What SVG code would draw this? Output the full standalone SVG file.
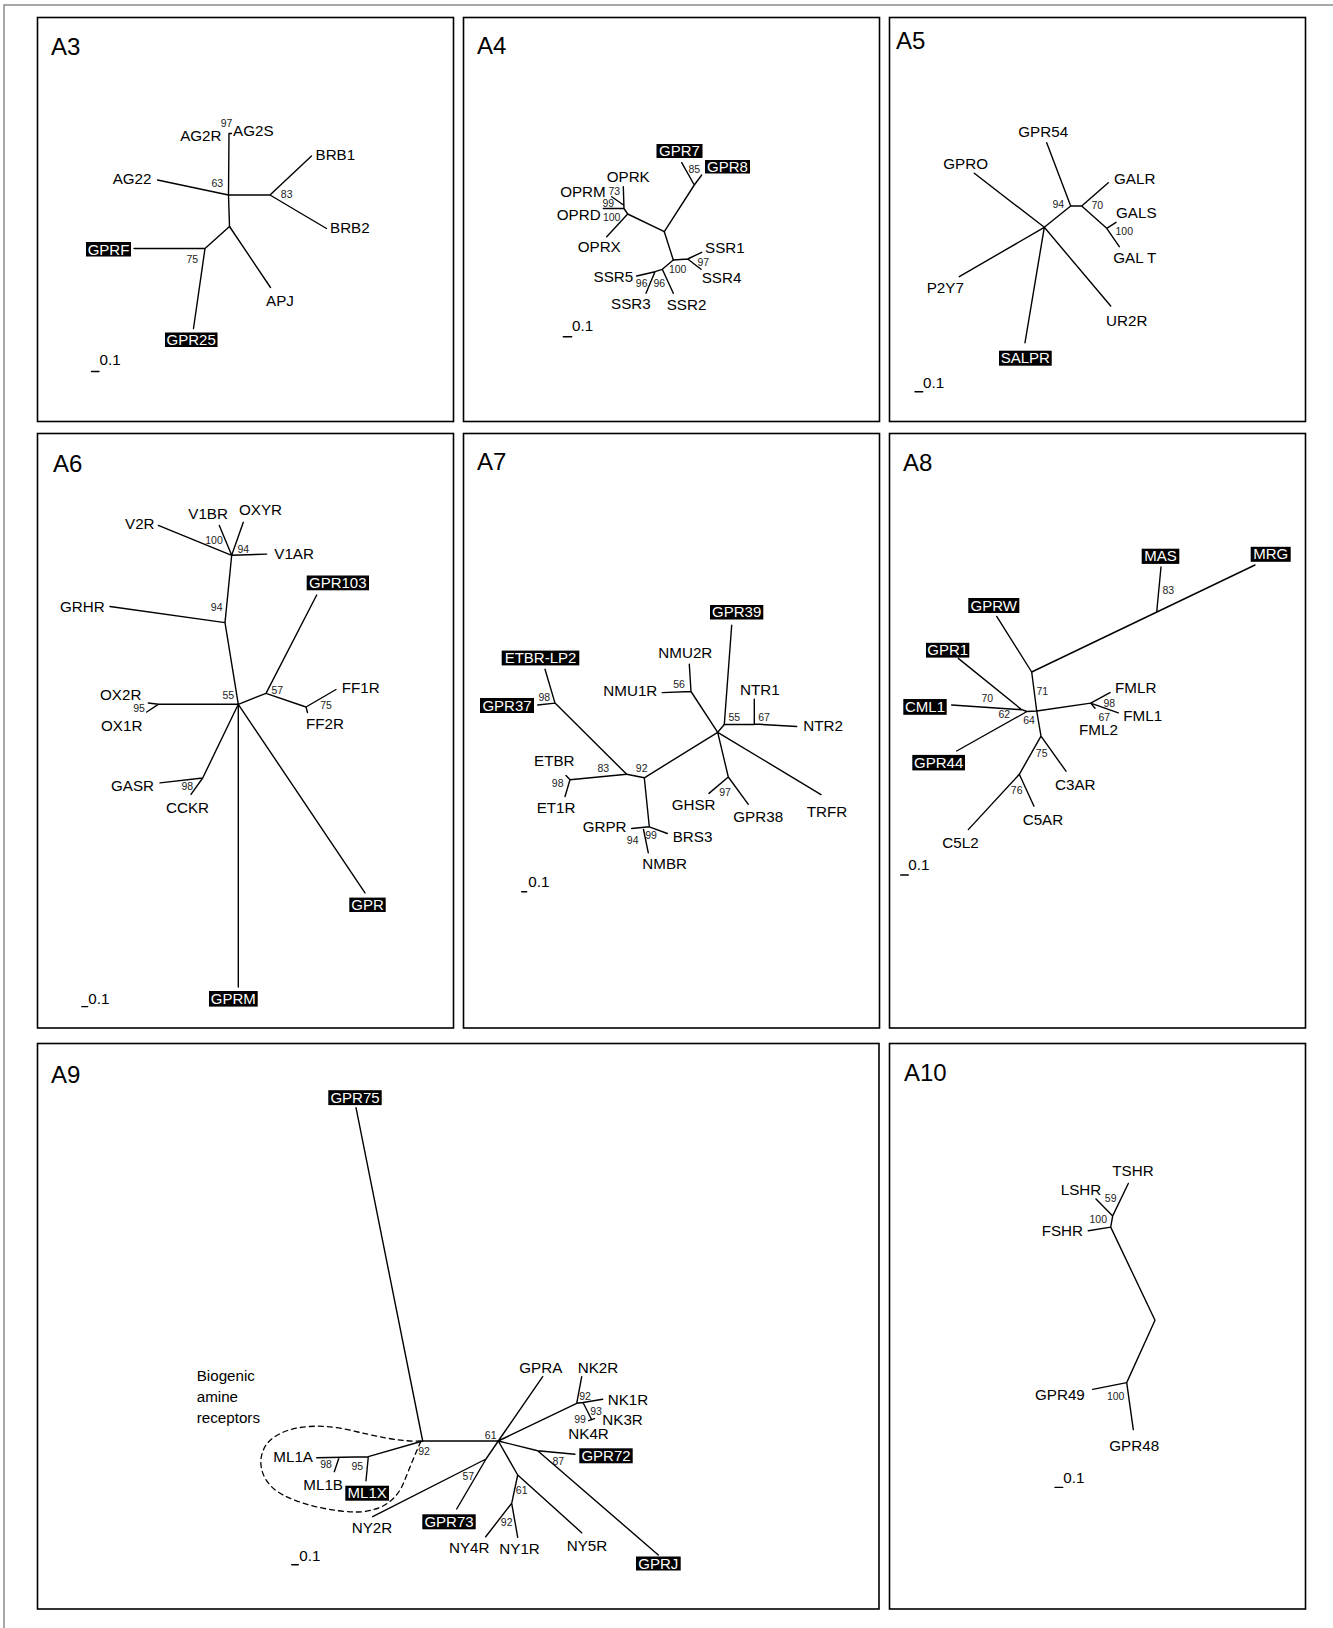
<svg xmlns="http://www.w3.org/2000/svg" width="1333" height="1628" viewBox="0 0 1333 1628">
<style>
.frame{fill:none;stroke:#000;stroke-width:1.6}
.outer{fill:none;stroke:#8a8a8a;stroke-width:1.5}
.e{fill:none;stroke:#000;stroke-width:1.4;stroke-linecap:round;stroke-linejoin:round}
.d{fill:none;stroke:#000;stroke-width:1.3;stroke-dasharray:5 4}
text{font-family:"Liberation Sans",Arial,Helvetica,sans-serif}
.l{font-size:15.2px;fill:#000}
.r{text-anchor:end}
.w{font-size:15px;fill:#fff;text-anchor:middle}
.box{fill:#000}
.n{font-size:10.5px;fill:#222;text-anchor:middle}
.ti{font-size:24px;fill:#000}
</style>
<rect x="0" y="0" width="1333" height="1628" fill="#fff"/>
<path class="outer" d="M4,1628 V5 H1333"/>

<!-- panel frames and titles -->
<g id="panels">
<rect class="frame" x="37.5" y="17.5" width="416" height="404"/>
<rect class="frame" x="463.5" y="17.5" width="416" height="404"/>
<rect class="frame" x="889.5" y="17.5" width="416" height="404"/>
<rect class="frame" x="37.5" y="433.5" width="416" height="594.5"/>
<rect class="frame" x="463.5" y="433.5" width="416" height="594.5"/>
<rect class="frame" x="889.5" y="433.5" width="416" height="594.5"/>
<rect class="frame" x="37.5" y="1043.5" width="841.5" height="565.5"/>
<rect class="frame" x="889.5" y="1043.5" width="416" height="565.5"/>
<text class="ti" x="51" y="55">A3</text>
<text class="ti" x="477" y="54">A4</text>
<text class="ti" x="896" y="48.5">A5</text>
<text class="ti" x="53" y="472">A6</text>
<text class="ti" x="477" y="470">A7</text>
<text class="ti" x="903" y="471">A8</text>
<text class="ti" x="51" y="1082.5">A9</text>
<text class="ti" x="904" y="1080.5">A10</text>
</g>

<!-- connectors (tree branches) -->
<g id="connectors">
<g id="A3-edges" class="e">
<path d="M231.5,133.5 H229 L228.5,195 L229.5,226.5"/>
<path d="M228.5,195 L157.5,180"/>
<path d="M228.5,195 H270 L311.5,156 M270,195 L326.5,228.5"/>
<path d="M229.5,226.5 L205,248.5 H134 M205,248.5 L193.5,328.5"/>
<path d="M229.5,226.5 L270.5,287.5"/>
<path d="M91.5,371.5 H99"/>
</g>
<g id="A4-edges" class="e">
<path d="M681.7,162.7 L694.3,185 L701.7,175 M694.3,185 L664.3,231.7"/>
<path d="M664.3,231.7 L627.7,214 L624,208.5 L623.3,186.7 M623.5,205 L611.7,196.7 M624,208.5 H603.3 M627.7,214 L606.7,236.7"/>
<path d="M664.3,231.7 L673.3,260 L687.7,259 L701.7,252.3 M687.7,259 L701,269.3"/>
<path d="M673.3,260 L662.3,269.3 L673.3,293.3 M662.3,269.3 L655,271.7 L636.7,276 M655,271.7 L646,293.3"/>
<path d="M563.3,336.7 H571.7"/>
</g>
<g id="A5-edges" class="e">
<path d="M974.3,173.3 L1044.3,227.3 L1110.7,306 M959.3,276.7 L1044.3,227.3 L1025,342.7"/>
<path d="M1044.3,227.3 L1070.7,206 L1046.7,142.7 M1070.7,206 H1081.7 L1108.3,182.7 M1081.7,206 L1106.7,228.3 L1119.3,246.7 M1106.7,228.3 L1116,222.3"/>
<path d="M915,391.7 H922.7"/>
</g>
<g id="A6-edges" class="e">
<path d="M158.3,525.4 L231.7,555.3 L219.3,525.4 M243.3,522.3 L231.7,555.3 L266.7,554.1 M231.7,555.3 L225,622.6 L238.3,704.3 M110,606.5 L225,622.6"/>
<path d="M238.3,704.3 H158.3 L148.3,703 M158.3,704.3 L146.7,712"/>
<path d="M238.3,704.3 L266,693.4 L316.7,595 M266,693.4 L306,707 L336,689.5 M306,707 L307.5,712.5"/>
<path d="M238.3,704.3 L202.7,778 L160,782.9 M202.7,778 L191,794.4"/>
<path d="M238.3,704.3 L365,892.8 M238.3,704.3 V987"/>
<path d="M81.7,1006.6 H87.7"/>
</g>
<g id="A7-edges" class="e">
<path d="M731.7,625.3 L724.3,724.5 H754.3 V699.2 M754.3,724 L796.7,726.5"/>
<path d="M724.3,724.5 L717.7,732.3 L691,691.5 L689.3,664.2 M691,691.5 L662.3,692.6"/>
<path d="M717.7,732.3 L821,794.6 M717.7,732.3 L728.3,777 L709,793.4 M728.3,777 L748.3,804.3"/>
<path d="M717.7,732.3 L644.3,777.8 L626.7,774.3 L555,703.1 L545,669.3 M555,703.1 L537.7,705"/>
<path d="M626.7,774.3 L570,779.8 L566,775.5 M570,779.8 L565,796.5"/>
<path d="M644.3,777.8 L649.3,826.8 L631.7,828.5 M649.3,826.8 L667.3,833.5 M643.5,829.5 L648.3,852.9"/>
<path d="M521.7,891.8 H526.7"/>
</g>
<g id="A8-edges" class="e">
<path d="M996.7,616.4 L1031.7,672 L1255,565 M1161,567 L1156.7,612"/>
<path d="M1031.7,672 L1036.7,711 M958.3,658.4 L1021.7,709.7 L1027,711.5 L1036.7,711 M951.7,705 L1021.7,709.7 M956.7,751 L1027,711.5"/>
<path d="M1036.7,711 L1090.7,703.1 L1110,692.6 M1090.7,703.1 L1118.3,712.9 M1090.7,703.1 L1095,708.2"/>
<path d="M1036.7,711 L1041,736.2 L1066,771.2 M1041,736.2 L1019.3,774.3 L1034,806.2 M1019.3,774.3 L968.3,829.6"/>
<path d="M900.7,875 H908.3"/>
</g>
<g id="A9-edges" class="e">
<path d="M356,1107.7 L422.7,1441 H498.3"/>
<path d="M422.7,1441 L368.3,1456.7 L366,1480.7 M368.3,1456.7 L316.7,1457.7 M339,1457.7 L334.3,1471.7"/>
<path d="M372.7,1516.7 L486,1459 L498.3,1441 M486,1459 L456.7,1509"/>
<path d="M498.3,1441 L542.7,1376.7 M498.3,1441 L576.7,1403.3 L581.7,1376.7 M576.7,1403.3 L583,1402.5 L602.7,1399.3 M583,1402.5 L591.7,1419.7 M588.7,1420.7 L594.5,1418.7"/>
<path d="M498.3,1441 L537.7,1450.7 L575,1454.3 M537.7,1450.7 L658.3,1555"/>
<path d="M498.3,1441 L517.7,1475 L581.7,1532.7 M517.7,1475 L511.7,1503.3 L485.7,1536.7 M511.7,1503.3 L517.7,1537.3"/>
<path d="M291.7,1564.7 H298.3"/>
<path class="d" d="M421,1441 C400,1442 375,1436 345,1429 C315,1423 280,1426 266,1445 C255,1462 262,1484 283,1495 C305,1506 335,1512 358,1512 C385,1511 398,1497 404,1482 C410,1467 416,1452 421,1441"/>
</g>
<g id="A10-edges" class="e">
<path d="M1128.3,1183.5 L1112.7,1215.9 L1096,1199.1 M1112.7,1215.9 L1110.7,1227.1 L1088.3,1230.8 M1110.7,1227.1 L1155,1320.3 L1126.7,1382.6 L1092.7,1389.4 M1126.7,1382.6 L1133.3,1429.6"/>
<path d="M1055,1487.4 H1062.7"/>
</g>
</g>

<!-- A3 nodes -->
<g id="A3-nodes">
<g id="A3-AG2R"><text class="l r" x="221.5" y="141">AG2R</text></g>
<g id="A3-AG2S"><text class="l" x="233" y="136">AG2S</text></g>
<g id="A3-BRB1"><text class="l" x="315.5" y="160">BRB1</text></g>
<g id="A3-AG22"><text class="l r" x="151.5" y="184">AG22</text></g>
<g id="A3-BRB2"><text class="l" x="330" y="232.5">BRB2</text></g>
<g id="A3-GPRF"><rect class="box" x="86" y="242" width="45" height="14.5"/><text class="w" x="108.5" y="254.5">GPRF</text></g>
<g id="A3-APJ"><text class="l" x="266" y="305.5">APJ</text></g>
<g id="A3-GPR25"><rect class="box" x="165" y="332.5" width="52.5" height="14.5"/><text class="w" x="191.2" y="345">GPR25</text></g>
<g id="A3-boot"><text class="n" x="226.5" y="127">97</text><text class="n" x="217.3" y="187">63</text><text class="n" x="286.7" y="198">83</text><text class="n" x="192.3" y="263">75</text></g>
<g id="A3-scale"><text class="l" x="99.5" y="365">0.1</text></g>
</g>

<!-- A4 nodes -->
<g id="A4-nodes">
<g id="A4-GPR7"><rect class="box" x="656.5" y="144" width="46" height="14"/><text class="w" x="679.5" y="156">GPR7</text></g>
<g id="A4-GPR8"><rect class="box" x="705" y="160" width="45" height="13.5"/><text class="w" x="727.5" y="171.7">GPR8</text></g>
<g id="A4-OPRK"><text class="l" x="606.7" y="181.7">OPRK</text></g>
<g id="A4-OPRM"><text class="l r" x="605.7" y="197.3">OPRM</text></g>
<g id="A4-OPRD"><text class="l r" x="600.7" y="220">OPRD</text></g>
<g id="A4-OPRX"><text class="l" x="577.7" y="251.7">OPRX</text></g>
<g id="A4-SSR1"><text class="l" x="705" y="252.7">SSR1</text></g>
<g id="A4-SSR4"><text class="l" x="701.7" y="283.3">SSR4</text></g>
<g id="A4-SSR5"><text class="l r" x="633.3" y="282.3">SSR5</text></g>
<g id="A4-SSR3"><text class="l" x="611" y="309.3">SSR3</text></g>
<g id="A4-SSR2"><text class="l" x="666.7" y="310">SSR2</text></g>
<g id="A4-boot"><text class="n" x="694.3" y="173">85</text><text class="n" x="614.3" y="195.4">73</text><text class="n" x="608.3" y="207">99</text><text class="n" x="611.7" y="221">100</text><text class="n" x="703.3" y="266">97</text><text class="n" x="677.7" y="273">100</text><text class="n" x="641.7" y="287">96</text><text class="n" x="659.3" y="287">96</text></g>
<g id="A4-scale"><text class="l" x="572" y="331">0.1</text></g>
</g>

<!-- A5 nodes -->
<g id="A5-nodes">
<g id="A5-GPR54"><text class="l" x="1018.3" y="136.7">GPR54</text></g>
<g id="A5-GPRO"><text class="l" x="943.3" y="169.3">GPRO</text></g>
<g id="A5-GALR"><text class="l" x="1114" y="184">GALR</text></g>
<g id="A5-GALS"><text class="l" x="1116" y="218.3">GALS</text></g>
<g id="A5-GALT"><text class="l" x="1113.3" y="263.3">GAL T</text></g>
<g id="A5-P2Y7"><text class="l" x="926.7" y="293.3">P2Y7</text></g>
<g id="A5-UR2R"><text class="l" x="1106" y="326">UR2R</text></g>
<g id="A5-SALPR"><rect class="box" x="999" y="350.7" width="52.7" height="15"/><text class="w" x="1025.3" y="363.3">SALPR</text></g>
<g id="A5-boot"><text class="n" x="1058.3" y="208">94</text><text class="n" x="1097.3" y="208.7">70</text><text class="n" x="1124.3" y="234.7">100</text></g>
<g id="A5-scale"><text class="l" x="923" y="387.7">0.1</text></g>
</g>

<!-- A6 nodes -->
<g id="A6-nodes">
<g id="A6-V2R"><text class="l" x="125" y="529">V2R</text></g>
<g id="A6-V1BR"><text class="l" x="188.3" y="519">V1BR</text></g>
<g id="A6-OXYR"><text class="l" x="239" y="515">OXYR</text></g>
<g id="A6-V1AR"><text class="l" x="274.3" y="559">V1AR</text></g>
<g id="A6-GRHR"><text class="l" x="60" y="611.7">GRHR</text></g>
<g id="A6-GPR103"><rect class="box" x="306.7" y="575.5" width="62.3" height="14.8"/><text class="w" x="337.8" y="588">GPR103</text></g>
<g id="A6-OX2R"><text class="l" x="100" y="700">OX2R</text></g>
<g id="A6-OX1R"><text class="l" x="101" y="731">OX1R</text></g>
<g id="A6-FF1R"><text class="l" x="341.7" y="693">FF1R</text></g>
<g id="A6-FF2R"><text class="l" x="306" y="729">FF2R</text></g>
<g id="A6-GASR"><text class="l" x="111" y="790.5">GASR</text></g>
<g id="A6-CCKR"><text class="l" x="166" y="812.8">CCKR</text></g>
<g id="A6-GPR"><rect class="box" x="349.3" y="897.6" width="36.4" height="14.4"/><text class="w" x="367.5" y="910">GPR</text></g>
<g id="A6-GPRM"><rect class="box" x="209" y="991" width="48.7" height="15.6"/><text class="w" x="233.3" y="1004">GPRM</text></g>
<g id="A6-boot"><text class="n" x="214" y="544.2">100</text><text class="n" x="243.3" y="553.2">94</text><text class="n" x="216.7" y="610.7">94</text><text class="n" x="228.3" y="699">55</text><text class="n" x="139" y="711.5">95</text><text class="n" x="277.3" y="694.2">57</text><text class="n" x="326" y="708.7">75</text><text class="n" x="187.3" y="789.7">98</text></g>
<g id="A6-scale"><text class="l" x="88.3" y="1004">0.1</text></g>
</g>

<!-- A7 nodes -->
<g id="A7-nodes">
<g id="A7-GPR39"><rect class="box" x="710" y="605" width="53.3" height="14.5"/><text class="w" x="736.7" y="617.3">GPR39</text></g>
<g id="A7-NTR1"><text class="l" x="740" y="695.4">NTR1</text></g>
<g id="A7-NTR2"><text class="l" x="803.3" y="731">NTR2</text></g>
<g id="A7-NMU2R"><text class="l" x="658.3" y="658.4">NMU2R</text></g>
<g id="A7-NMU1R"><text class="l" x="603.3" y="696">NMU1R</text></g>
<g id="A7-TRFR"><text class="l" x="806.7" y="817">TRFR</text></g>
<g id="A7-GHSR"><text class="l" x="671.7" y="810">GHSR</text></g>
<g id="A7-GPR38"><text class="l" x="733.3" y="821.8">GPR38</text></g>
<g id="A7-ETBR-LP2"><rect class="box" x="501.7" y="650.6" width="77.6" height="14.8"/><text class="w" x="540.5" y="663">ETBR-LP2</text></g>
<g id="A7-GPR37"><rect class="box" x="480" y="698" width="54" height="15"/><text class="w" x="507" y="710.5">GPR37</text></g>
<g id="A7-ETBR"><text class="l" x="534" y="766">ETBR</text></g>
<g id="A7-ET1R"><text class="l" x="536.7" y="813.2">ET1R</text></g>
<g id="A7-GRPR"><text class="l" x="582.7" y="832.3">GRPR</text></g>
<g id="A7-BRS3"><text class="l" x="672.7" y="842">BRS3</text></g>
<g id="A7-NMBR"><text class="l" x="642.3" y="868.5">NMBR</text></g>
<g id="A7-boot"><text class="n" x="734.3" y="721.2">55</text><text class="n" x="764" y="721.2">67</text><text class="n" x="679" y="688.2">56</text><text class="n" x="725" y="795.5">97</text><text class="n" x="641.7" y="771.7">92</text><text class="n" x="603.3" y="771.7">83</text><text class="n" x="544.3" y="701">98</text><text class="n" x="557.7" y="787.4">98</text><text class="n" x="632.7" y="844.2">94</text><text class="n" x="651" y="839.1">99</text></g>
<g id="A7-scale"><text class="l" x="528.3" y="887">0.1</text></g>
</g>

<!-- A8 nodes -->
<g id="A8-nodes">
<g id="A8-MAS"><rect class="box" x="1141.7" y="548.7" width="37.6" height="15.2"/><text class="w" x="1160.5" y="561.3">MAS</text></g>
<g id="A8-MRG"><rect class="box" x="1250.7" y="546.8" width="40" height="15"/><text class="w" x="1270.7" y="559.3">MRG</text></g>
<g id="A8-GPRW"><rect class="box" x="968.3" y="598" width="51" height="15"/><text class="w" x="993.8" y="610.5">GPRW</text></g>
<g id="A8-GPR1"><rect class="box" x="926" y="642.8" width="43.3" height="14.8"/><text class="w" x="947.7" y="655.3">GPR1</text></g>
<g id="A8-CML1"><rect class="box" x="903.3" y="699" width="43.4" height="15.8"/><text class="w" x="925" y="712">CML1</text></g>
<g id="A8-GPR44"><rect class="box" x="912.3" y="754.9" width="52.7" height="15.5"/><text class="w" x="938.7" y="767.6">GPR44</text></g>
<g id="A8-FMLR"><text class="l" x="1115" y="693.4">FMLR</text></g>
<g id="A8-FML1"><text class="l" x="1123.3" y="720.6">FML1</text></g>
<g id="A8-FML2"><text class="l" x="1079" y="735">FML2</text></g>
<g id="A8-C3AR"><text class="l" x="1055" y="789.5">C3AR</text></g>
<g id="A8-C5AR"><text class="l" x="1022.7" y="824.9">C5AR</text></g>
<g id="A8-C5L2"><text class="l" x="942.3" y="847.8">C5L2</text></g>
<g id="A8-boot"><text class="n" x="1168.3" y="594">83</text><text class="n" x="1042.3" y="695.2">71</text><text class="n" x="987.3" y="701.7">70</text><text class="n" x="1004.3" y="717.7">62</text><text class="n" x="1029" y="723.6">64</text><text class="n" x="1109.3" y="706.8">98</text><text class="n" x="1104.3" y="721.2">67</text><text class="n" x="1041.7" y="757.4">75</text><text class="n" x="1016.7" y="794.4">76</text></g>
<g id="A8-scale"><text class="l" x="908.3" y="870.4">0.1</text></g>
</g>

<!-- A9 nodes -->
<g id="A9-nodes">
<g id="A9-GPR75"><rect class="box" x="328.3" y="1090.2" width="53.4" height="14.9"/><text class="w" x="355" y="1102.7">GPR75</text></g>
<g id="A9-biogenic"><text class="l" x="196.7" y="1381">Biogenic</text><text class="l" x="196.7" y="1402">amine</text><text class="l" x="196.7" y="1423">receptors</text></g>
<g id="A9-ML1A"><text class="l" x="273.3" y="1462.3">ML1A</text></g>
<g id="A9-ML1B"><text class="l" x="303.3" y="1490">ML1B</text></g>
<g id="A9-ML1X"><rect class="box" x="345.3" y="1485.7" width="43.7" height="15"/><text class="w" x="367.2" y="1498.3">ML1X</text></g>
<g id="A9-NY2R"><text class="l" x="351.7" y="1532.7">NY2R</text></g>
<g id="A9-GPR73"><rect class="box" x="422.3" y="1514.3" width="53.4" height="15"/><text class="w" x="449" y="1526.8">GPR73</text></g>
<g id="A9-GPRA"><text class="l" x="519.3" y="1373.3">GPRA</text></g>
<g id="A9-NK2R"><text class="l" x="577.7" y="1373.3">NK2R</text></g>
<g id="A9-NK1R"><text class="l" x="607.7" y="1405">NK1R</text></g>
<g id="A9-NK3R"><text class="l" x="602.3" y="1425">NK3R</text></g>
<g id="A9-NK4R"><text class="l" x="568.3" y="1439.3">NK4R</text></g>
<g id="A9-GPR72"><rect class="box" x="579.3" y="1448.3" width="53.4" height="15"/><text class="w" x="606" y="1460.8">GPR72</text></g>
<g id="A9-NY4R"><text class="l" x="449" y="1553.3">NY4R</text></g>
<g id="A9-NY1R"><text class="l" x="499.3" y="1554.3">NY1R</text></g>
<g id="A9-NY5R"><text class="l" x="566.7" y="1550.7">NY5R</text></g>
<g id="A9-GPRJ"><rect class="box" x="636" y="1556.5" width="44.7" height="14"/><text class="w" x="658.3" y="1568.5">GPRJ</text></g>
<g id="A9-boot"><text class="n" x="424" y="1454.7">92</text><text class="n" x="357.3" y="1469.7">95</text><text class="n" x="326" y="1468">98</text><text class="n" x="490.7" y="1438.7">61</text><text class="n" x="468.3" y="1480.4">57</text><text class="n" x="585" y="1399.7">92</text><text class="n" x="596" y="1414.7">93</text><text class="n" x="580" y="1423">99</text><text class="n" x="558.3" y="1464.7">87</text><text class="n" x="521.7" y="1494.4">61</text><text class="n" x="506.7" y="1526">92</text></g>
<g id="A9-scale"><text class="l" x="299.3" y="1561">0.1</text></g>
</g>

<!-- A10 nodes -->
<g id="A10-nodes">
<g id="A10-TSHR"><text class="l" x="1112.3" y="1176">TSHR</text></g>
<g id="A10-LSHR"><text class="l" x="1060.7" y="1194.6">LSHR</text></g>
<g id="A10-FSHR"><text class="l" x="1041.7" y="1236.4">FSHR</text></g>
<g id="A10-GPR49"><text class="l" x="1035" y="1399.8">GPR49</text></g>
<g id="A10-GPR48"><text class="l" x="1109.3" y="1450.9">GPR48</text></g>
<g id="A10-boot"><text class="n" x="1110.7" y="1201.7">59</text><text class="n" x="1098.3" y="1222.6">100</text><text class="n" x="1115.7" y="1399.7">100</text></g>
<g id="A10-scale"><text class="l" x="1063.3" y="1482.6">0.1</text></g>
</g>
</svg>
